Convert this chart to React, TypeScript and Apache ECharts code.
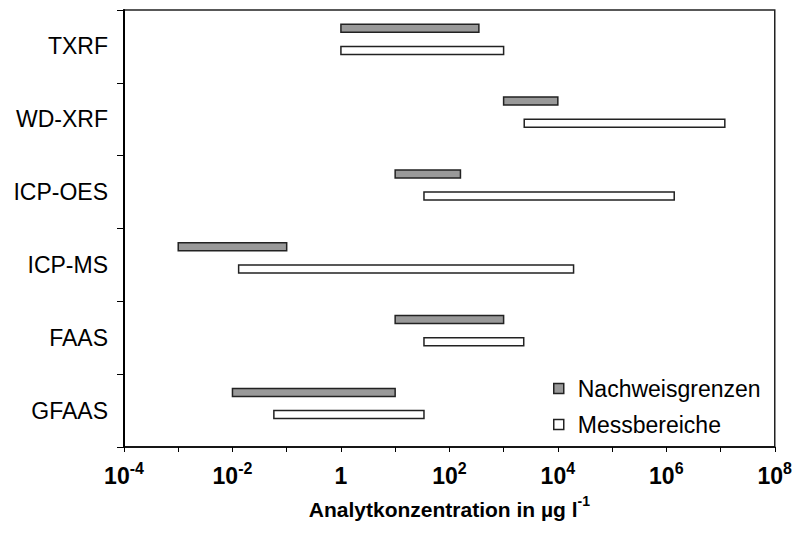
import React, { useEffect, useRef } from "react";
import * as echarts from "echarts";

const categories = ["TXRF", "WD-XRF", "ICP-OES", "ICP-MS", "FAAS", "GFAAS"];
const detectionStart = [1, 1000, 10, 0.001, 10, 0.01];
const detectionEnd = [350, 10000, 160, 0.1, 1000, 10];
const rangeStart = [1, 2400, 34, 0.013, 34, 0.058];
const rangeEnd = [1000, 1.2e7, 1.4e6, 19500, 2350, 34];
const seriesNames = ["Nachweisgrenzen", "Messbereiche"];
const xMin = 1e-4;
const xMax = 1e8;

const GRAY = "#999999";
const WHITE = "#ffffff";
const EDGE = "#222222";

function makeRender(offsetFrac: number, fill: string) {
  return (params: any, api: any) => {
    const cat = api.value(0);
    const s = api.coord([api.value(1), cat]);
    const e = api.coord([api.value(2), cat]);
    const next = api.coord([api.value(1), cat + 1]);
    const band = Math.abs(next[1] - s[1]);
    const h = 8;
    const cy = s[1] + offsetFrac * band;
    return {
      type: "rect",
      shape: { x: s[0], y: cy - h / 2, width: e[0] - s[0], height: h },
      style: { fill, stroke: EDGE, lineWidth: 1.5 },
    };
  };
}

export default function App() {
  const ref = useRef<HTMLDivElement>(null);
  useEffect(() => {
    if (!ref.current) return;
    const chart = echarts.init(ref.current, null, { renderer: "svg" });
    const detData = categories.map((_, i) => [i, detectionStart[i], detectionEnd[i]]);
    const rngData = categories.map((_, i) => [i, rangeStart[i], rangeEnd[i]]);
    chart.setOption({
      animation: false,
      backgroundColor: "#ffffff",
      textStyle: { fontFamily: "Liberation Sans, Arial, sans-serif" },
      grid: {
        left: 124,
        right: 20,
        top: 10,
        bottom: 94,
        show: true,
        borderColor: EDGE,
        borderWidth: 1.5,
        backgroundColor: "transparent",
      },
      legend: {
        orient: "vertical",
        left: 548,
        top: 372,
        itemWidth: 10,
        itemHeight: 10,
        itemGap: 13,
        textStyle: { fontSize: 23, color: "#000", padding: [0, 0, 0, 9] },
        data: [
          { name: seriesNames[0], icon: "rect", itemStyle: { color: GRAY, borderColor: EDGE, borderWidth: 1.5 } },
          { name: seriesNames[1], icon: "rect", itemStyle: { color: WHITE, borderColor: EDGE, borderWidth: 1.5 } },
        ],
      },
      xAxis: {
        type: "log",
        logBase: 10,
        min: xMin,
        max: xMax,
        interval: 1,
        splitLine: { show: false },
        axisLine: { show: true, lineStyle: { color: "#000", width: 1.5 } },
        axisTick: { show: true, inside: false, length: 5, lineStyle: { color: "#000", width: 1 } },
        axisLabel: {
          margin: 13,
          color: "#000",
          formatter: (v: number) => {
            const ex = Math.round(Math.log10(v));
            if (ex % 2 !== 0) return "";
            if (ex === 0) return "{b|1}";
            return "{b|10}{s|" + ex + "}";
          },
          rich: {
            b: { fontSize: 23, fontWeight: "bold", color: "#000", lineHeight: 27, verticalAlign: "bottom" },
            s: { fontSize: 16, fontWeight: "bold", color: "#000", lineHeight: 16, verticalAlign: "top" },
          },
        },
        name: "{t|Analytkonzentration in µg l}{s|-1}",
        nameLocation: "middle",
        nameGap: 47,
        nameTextStyle: {
          rich: {
            t: { fontSize: 21, fontWeight: "bold", color: "#000", lineHeight: 26, verticalAlign: "bottom" },
            s: { fontSize: 14, fontWeight: "bold", color: "#000", lineHeight: 14, verticalAlign: "top" },
          },
        },
      },
      yAxis: {
        type: "category",
        data: categories,
        inverse: true,
        boundaryGap: true,
        axisLine: { show: true, lineStyle: { color: "#000", width: 2 } },
        axisTick: { show: true, inside: false, length: 7, alignWithLabel: false, lineStyle: { color: "#000", width: 1 } },
        axisLabel: { fontSize: 23, color: "#000", margin: 16 },
        splitLine: { show: false },
      },
      series: [
        {
          name: seriesNames[0],
          type: "custom",
          renderItem: makeRender(-0.25, GRAY),
          itemStyle: { color: GRAY, borderColor: EDGE },
          encode: { x: [1, 2], y: 0 },
          data: detData,
        },
        {
          name: seriesNames[1],
          type: "custom",
          renderItem: makeRender(0.055, WHITE),
          itemStyle: { color: WHITE, borderColor: EDGE },
          encode: { x: [1, 2], y: 0 },
          data: rngData,
        },
      ],
    });
    return () => chart.dispose();
  }, []);
  return <div ref={ref} style={{ width: 795, height: 541, position: "absolute", left: 0, top: 0 }} />;
}
